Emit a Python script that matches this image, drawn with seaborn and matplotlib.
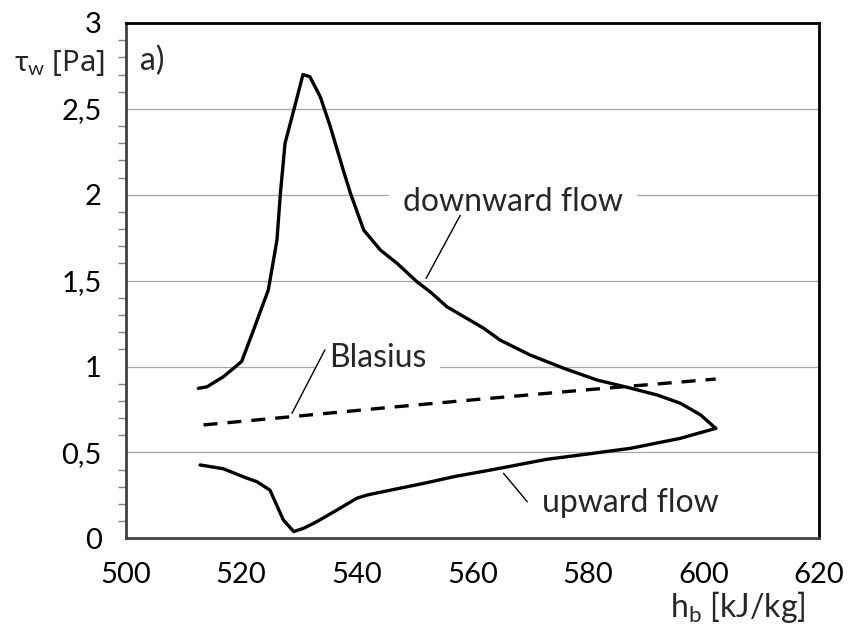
import matplotlib
matplotlib.use("Agg")
import matplotlib.pyplot as plt
import seaborn as sns
import pandas as pd
import numpy as np
from matplotlib.ticker import MultipleLocator

# ---- data ----
down_h = [512.6, 514.1, 516.9, 518.7, 520.1, 521.9, 524.7, 526.2, 526.8, 527.6,
          529.4, 530.7, 531.9, 533.7, 535.4, 537.7, 538.9, 541.2, 544.1, 547.0,
          550.4, 552.7, 555.6, 562.0, 564.8, 570.0, 575.8, 581.6, 586.8, 592.0,
          596.0, 599.5, 602.1]
down_tau = [0.873, 0.882, 0.94, 0.99, 1.03, 1.19, 1.445, 1.736, 2.01, 2.30,
            2.53, 2.70, 2.687, 2.57, 2.40, 2.14, 2.01, 1.795, 1.678, 1.60,
            1.494, 1.435, 1.348, 1.222, 1.154, 1.067, 0.99, 0.921, 0.879, 0.834,
            0.786, 0.718, 0.640]

up_h = [512.9, 516.9, 521.0, 522.7, 525.0, 527.3, 529.1, 530.8, 533.1, 536.6,
        540.0, 541.8, 545.8, 551.6, 557.0, 563.1, 572.9, 578.7, 587.4, 596.0, 602.1]
up_tau = [0.427, 0.405, 0.35, 0.33, 0.28, 0.107, 0.039, 0.058, 0.097, 0.165,
          0.233, 0.252, 0.28, 0.32, 0.36, 0.397, 0.46, 0.485, 0.524, 0.582, 0.640]

blasius_h = [513.5, 530.0, 545.0, 561.4, 580.0, 602.1]
blasius_tau = [0.660, 0.712, 0.760, 0.810, 0.865, 0.927]

x_ticks = [500, 520, 540, 560, 580, 600, 620]
y_ticks = [0, 0.5, 1, 1.5, 2, 2.5, 3]
y_tick_labels = ["0", "0,5", "1", "1,5", "2", "2,5", "3"]

# ---- style ----
sns.set_style("white")
FONT = ["Lato", "DejaVu Sans"]
plt.rcParams["font.family"] = FONT
plt.rcParams["mathtext.fontset"] = "custom"
plt.rcParams["mathtext.rm"] = "Lato"
plt.rcParams["mathtext.it"] = "Lato"

fig = plt.figure(figsize=(8.48, 6.35), dpi=100)
ax = fig.add_axes([0.148, 0.1523, 0.818, 0.8115])

df_down = pd.DataFrame({"h": down_h, "tau": down_tau})
df_up = pd.DataFrame({"h": up_h, "tau": up_tau})
df_bl = pd.DataFrame({"h": blasius_h, "tau": blasius_tau})

LW = 2.4
sns.lineplot(data=df_down, x="h", y="tau", sort=False, estimator=None,
             color="black", lw=LW, ax=ax, zorder=5)
sns.lineplot(data=df_up, x="h", y="tau", sort=False, estimator=None,
             color="black", lw=LW, ax=ax, zorder=5)
sns.lineplot(data=df_bl, x="h", y="tau", sort=False, estimator=None,
             color="black", lw=LW, ax=ax, zorder=5)
ax.lines[-1].set_dashes((4.2, 3.0))
for ln in ax.lines:
    ln.set_solid_joinstyle("round")
    ln.set_solid_capstyle("round")

ax.set_xlim(500, 620)
ax.set_ylim(0, 3)
ax.set_xticks(x_ticks)
ax.set_xticklabels([str(v) for v in x_ticks])
ax.set_yticks(y_ticks)
ax.set_yticklabels(y_tick_labels)
ax.yaxis.set_minor_locator(MultipleLocator(0.1))
ax.set_xlabel("")
ax.set_ylabel("")

ax.grid(axis="y", which="major", color="#a6a6a6", lw=0.9, zorder=0)
ax.set_axisbelow(True)

ax.tick_params(axis="both", which="major", direction="out", length=9,
               width=1.0, color="#808080", labelsize=21, labelcolor="black")
ax.tick_params(axis="y", which="minor", direction="out", length=6,
               width=1.0, color="#808080", left=True)
ax.tick_params(axis="x", pad=8)
ax.tick_params(axis="y", pad=8)

for s in ax.spines.values():
    s.set_color("black")
    s.set_linewidth(2.0)
ax.spines["left"].set_color("#404040")
ax.spines["bottom"].set_color("#404040")

bbox = dict(facecolor="white", edgecolor="none", pad=10)
TS = 23

# annotations
ax.text(567.0, 1.96, "downward flow", fontsize=TS, ha="center", va="center",
        bbox=bbox, zorder=3)
ax.plot([557.9, 552.0], [1.88, 1.513], color="black", lw=1.0, zorder=4)

ax.text(535.2, 1.05, "Blasius", fontsize=TS, ha="left", va="center",
        bbox=bbox, zorder=3)
ax.plot([534.5, 528.8], [1.097, 0.728], color="black", lw=1.0, zorder=4)

ax.text(572.0, 0.204, "upward flow", fontsize=TS, ha="left", va="center",
        bbox=bbox, zorder=3)
ax.plot([569.5, 565.4], [0.213, 0.378], color="black", lw=1.0, zorder=4)

ax.text(502.5, 2.78, "a)", fontsize=TS, ha="left", va="center", zorder=3)

fig.text(14 / 848, 1 - 63 / 635, r"$\tau_{\mathrm{w}}$ [Pa]", fontsize=21,
         ha="left", va="center", family=["Noto Sans", "DejaVu Sans"])
fig.text(806 / 848, 1 - 607 / 635, r"h$_{\mathrm{b}}$ [kJ/kg]", fontsize=23,
         ha="right", va="center")

fig.savefig("out.png", dpi=100)
